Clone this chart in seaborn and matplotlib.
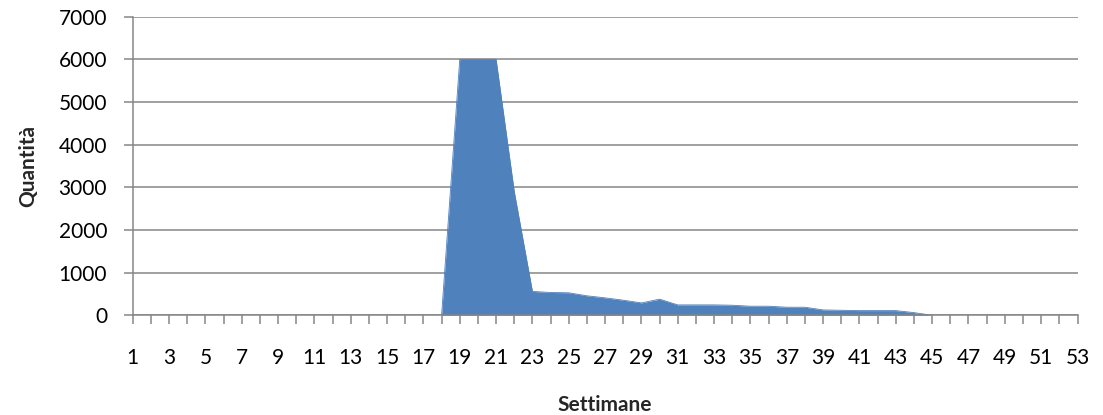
import matplotlib
matplotlib.use("Agg")
import matplotlib.pyplot as plt
import seaborn as sns
import pandas as pd

# weekly quantities (weeks 1..53)
weeks = list(range(1, 54))
quantities = (
    [0] * 18
    + [6000, 6000, 6000, 2900, 560, 535, 528, 457, 409, 354, 291, 378,
       244, 244, 244, 236, 213, 213, 189, 189, 126, 118, 110, 110, 110, 63, 0]
    + [0] * 8
)
y_ticks = [0, 1000, 2000, 3000, 4000, 5000, 6000, 7000]
x_labels = [str(w) if w % 2 == 1 else "" for w in weeks]

df = pd.DataFrame({"Settimane": weeks, "Quantità": quantities})

sns.set_theme(style="white")
plt.rcParams["font.family"] = ["Lato", "DejaVu Sans"]

fill_color = "#4F81BD"
grid_color = "#868686"

fig = plt.figure(figsize=(11.03, 4.15), dpi=100)
ax = fig.add_axes([132.7 / 1103, 1 - 315.3 / 415, (1077.5 - 132.7) / 1103, (315.3 - 16.7) / 415])

ax.fill_between(df["Settimane"], df["Quantità"], 0, color=fill_color, linewidth=0, zorder=3)
sns.lineplot(data=df, x="Settimane", y="Quantità", ax=ax, color=fill_color, linewidth=0.6, zorder=3)

ax.set_xlim(1, 53)
ax.set_ylim(0, 7000)
ax.set_xticks(weeks)
ax.set_xticklabels(x_labels)
ax.set_yticks(y_ticks)
ax.set_yticklabels([str(v) for v in y_ticks])

ax.yaxis.grid(True, color=grid_color, linewidth=1.1, zorder=0)
ax.xaxis.grid(False)
for side in ["top", "right"]:
    ax.spines[side].set_visible(False)
for side in ["left", "bottom"]:
    ax.spines[side].set_color(grid_color)
    ax.spines[side].set_linewidth(1.1)
    ax.spines[side].set_zorder(4)

ax.tick_params(axis="x", direction="out", length=6.5, width=1.1, color=grid_color,
               pad=17, labelsize=15, labelcolor="black", bottom=True)
ax.tick_params(axis="y", direction="out", length=6.5, width=1.1, color=grid_color,
               pad=12, labelsize=15, labelcolor="black", left=True)

ax.set_xlabel("Settimane", fontsize=15, fontweight="bold")
ax.set_ylabel("Quantità", fontsize=15, fontweight="bold")
ax.xaxis.set_label_coords(0.5, (315.3 - 405) / 298.6)
ax.xaxis.label.set_va("center")
ax.yaxis.set_label_coords((28 - 132.7) / 944.8, 0.5)
ax.yaxis.label.set_va("center")

fig.savefig("out.png", dpi=100)
